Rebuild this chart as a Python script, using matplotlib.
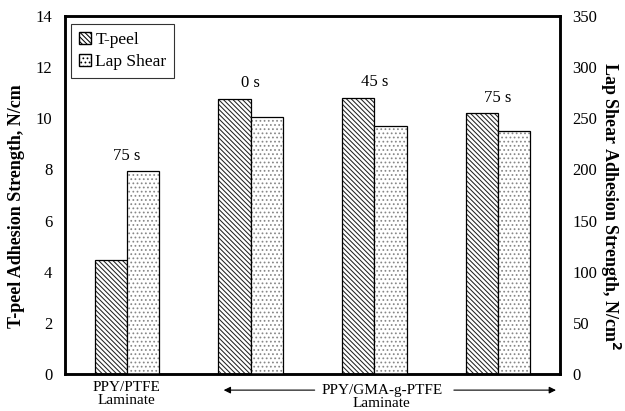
import matplotlib
matplotlib.use("Agg")
import matplotlib.pyplot as plt
import numpy as np
from matplotlib.patches import Patch
import matplotlib.transforms as mtransforms

plt.rcParams['font.family'] = ['Liberation Serif', 'DejaVu Serif']
plt.rcParams['hatch.linewidth'] = 0.75

groups = ["PPY/PTFE\nLaminate", "", "", ""]
time_labels = ["75 s", "0 s", "45 s", "75 s"]
tpeel = [4.45, 10.75, 10.8, 10.2]          # N/cm
lapshear = [198, 251, 242, 238]            # N/cm^2

fig = plt.figure(figsize=(6.25, 4.11), dpi=100)
ax = fig.add_axes([0.104, 0.09, 0.792, 0.871])
ax2 = ax.twinx()

x = np.arange(len(tpeel))
w = 0.26
TP_HATCH = '\\\\\\\\\\\\\\'
LS_HATCH = '....'
# T-peel bars: dark diagonal hatch
ax.bar(x - w/2, tpeel, w, facecolor='white', edgecolor='#222222', linewidth=0,
       hatch=TP_HATCH)
ax.bar(x - w/2, tpeel, w, facecolor='none', edgecolor='black', linewidth=0.9)
# Lap shear bars: light dotted hatch
ax2.bar(x + w/2, lapshear, w, facecolor='white', edgecolor='#888888', linewidth=0,
        hatch=LS_HATCH)
ax2.bar(x + w/2, lapshear, w, facecolor='none', edgecolor='black', linewidth=0.9)

ax.set_xlim(-0.5, 3.5)
ax.set_ylim(0, 14)
ax2.set_ylim(0, 350)
ax.set_yticks(np.arange(0, 15, 2))
ax2.set_yticks(np.arange(0, 351, 50))
ax.set_xticks([0])
ax.set_xticklabels([groups[0]], fontsize=11, linespacing=1.05)
ax.tick_params(axis='x', length=0, pad=5)
ax.tick_params(axis='y', length=0, labelsize=12, pad=9)
ax2.tick_params(axis='y', length=0, labelsize=12, pad=9)
for a in (ax, ax2):
    for s in a.spines.values():
        s.set_linewidth(1.8)

ax.set_ylabel("T-peel Adhesion Strength, N/cm", fontsize=13, fontweight='bold', va='center')
ax.yaxis.set_label_coords(-0.097, 0.47)
ax2.set_ylabel("Lap Shear Adhesion Strength, N/cm$^\\mathbf{2}$", fontsize=13,
               fontweight='bold', rotation=270, va='center')
ax2.yaxis.set_label_coords(1.102, 0.47)

# time annotations above groups
tops = [max(t, l / 25.0) for t, l in zip(tpeel, lapshear)]
for xi, top, lab in zip(x, tops, time_labels):
    ax.text(xi, top + 0.3, lab, ha='center', va='bottom', fontsize=12)

# grouped label with arrows
trans = mtransforms.blended_transform_factory(ax.transData, ax.transAxes)
ax.text(2.06, -0.045, "PPY/GMA-g-PTFE", transform=trans, ha='center', va='center', fontsize=11)
ax.text(2.06, -0.083, "Laminate", transform=trans, ha='center', va='center', fontsize=11)
ax.annotate("", xy=(0.76, -0.045), xytext=(1.54, -0.045), xycoords=trans, textcoords=trans,
            arrowprops=dict(arrowstyle='-|>', color='black', lw=0.8, mutation_scale=10),
            annotation_clip=False)
ax.annotate("", xy=(3.49, -0.045), xytext=(2.62, -0.045), xycoords=trans, textcoords=trans,
            arrowprops=dict(arrowstyle='-|>', color='black', lw=0.8, mutation_scale=10),
            annotation_clip=False)

handles = [Patch(facecolor='white', edgecolor='black', hatch=TP_HATCH, label='T-peel'),
           Patch(facecolor='white', edgecolor='black', hatch=LS_HATCH, label='Lap Shear')]
leg = ax.legend(handles=handles, loc='upper left', bbox_to_anchor=(0.012, 0.978),
                fontsize=12.5, frameon=True, fancybox=False, edgecolor='black',
                handlelength=0.7, handleheight=0.7, handletextpad=0.25, borderpad=0.45,
                labelspacing=0.35, borderaxespad=0.0)
leg.get_frame().set_linewidth(0.8)

fig.savefig("out.png", dpi=100)
